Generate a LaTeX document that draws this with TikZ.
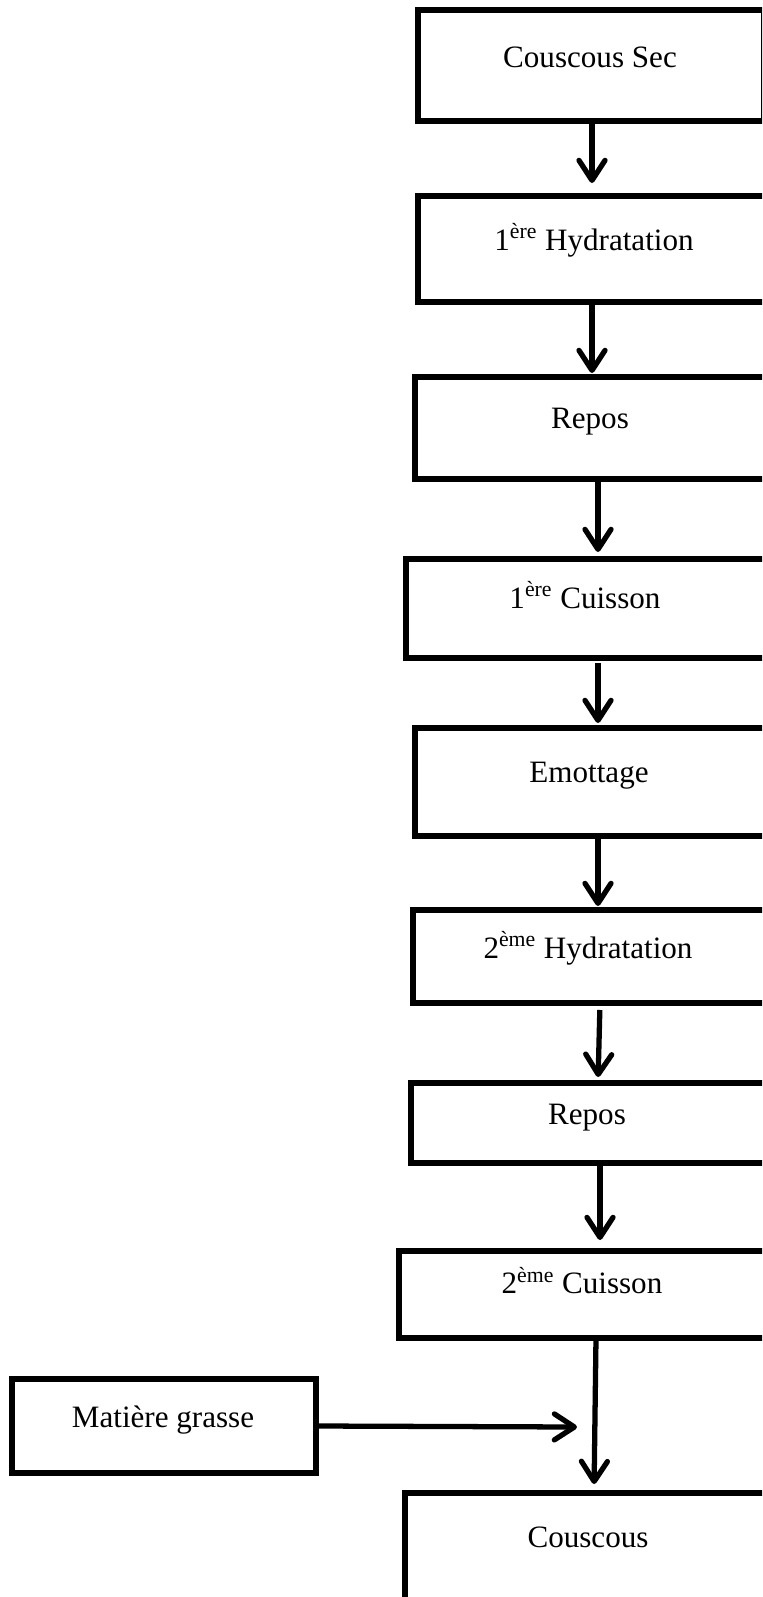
\documentclass[tikz,border=0pt]{standalone}
\usepackage{fontspec}
\setmainfont{Liberation Serif}
\usetikzlibrary{arrows.meta}

\begin{document}
\begin{tikzpicture}[x=0.02cm, y=-0.02cm,
    box/.style={draw, line width=3pt, inner sep=0pt, outer sep=0pt, anchor=north west},
    lbl/.style={anchor=base, inner sep=0pt, font=\fontsize{17.7}{21}\selectfont},
    flow/.style={line width=3pt, -{Straight Barb[length=0.4cm,width=0.52cm,round]}}]

    % Fix the page to the size of the diagram
    \clip (0,0) rectangle (762,1597);

    % Draw the process boxes (cut by the right edge)
    \node[box, minimum width=6.92cm, minimum height=2.22cm] (sec) at (418,10) {};
    \node[box, minimum width=7.44cm, minimum height=2.12cm] (hydA) at (418,196) {};
    \node[box, minimum width=7.50cm, minimum height=2.04cm] (reposA) at (415,377) {};
    \node[box, minimum width=7.68cm, minimum height=1.98cm] (cuisA) at (406,559) {};
    \node[box, minimum width=7.50cm, minimum height=2.16cm] (emot) at (415,728) {};
    \node[box, minimum width=7.54cm, minimum height=1.86cm] (hydB) at (413,910) {};
    \node[box, minimum width=7.58cm, minimum height=1.60cm] (reposB) at (411,1083) {};
    \node[box, minimum width=7.82cm, minimum height=1.74cm] (cuisB) at (399,1251) {};
    \node[box, minimum width=6.08cm, minimum height=1.88cm] (mat) at (12,1379) {};
    \node[box, minimum width=7.70cm, minimum height=3.00cm] (cous) at (405,1493) {};

    % Write the step names
    \node[lbl] (tsec) at (590,67) {Couscous Sec};
    \node[lbl] (thydA) at (594,250) {1\textsuperscript{ère} Hydratation};
    \node[lbl] (treposA) at (590,428) {Repos};
    \node[lbl] (tcuisA) at (585,608) {1\textsuperscript{ère} Cuisson};
    \node[lbl] (temot) at (589,782) {Emottage};
    \node[lbl] (thydB) at (588,958) {2\textsuperscript{ème} Hydratation};
    \node[lbl] (treposB) at (587,1124) {Repos};
    \node[lbl] (tcuisB) at (582,1293) {2\textsuperscript{ème} Cuisson};
    \node[lbl] (tmat) at (163,1427) {Matière grasse};
    \node[lbl] (tcous) at (588,1547) {Couscous};

    % Draw the arrows between the steps
    \draw[flow, shorten >=0.26cm] (sec.south -| 592,0) -- (hydA.north -| 592,0);
    \draw[flow, shorten >=0.08cm] (hydA.south -| 592,0) -- (reposA.north -| 592,0);
    \draw[flow, shorten >=0.14cm] (reposA.south -| 598,0) -- (cuisA.north -| 598,0);
    \draw[flow, shorten <=0.10cm, shorten >=0.10cm] (cuisA.south -| 598,0) -- (emot.north -| 598,0);
    \draw[flow, shorten >=0.08cm] (emot.south -| 598,0) -- (hydB.north -| 598,0);
    \draw[flow, shorten <=0.14cm, shorten >=0.12cm] (hydB.south -| 600,0) -- (reposB.north -| 598,0);
    \draw[flow, shorten >=0.22cm] (reposB.south -| 600,0) -- (cuisB.north -| 600,0);
    \draw[flow, shorten >=0.18cm] (cuisB.south -| 596,0) -- (cous.north -| 594,0);

    % Draw the added fat arrow
    \coordinate (ajout) at (577,1427);
    \draw[flow] (mat.east) -- (ajout);

\end{tikzpicture}
\end{document}
